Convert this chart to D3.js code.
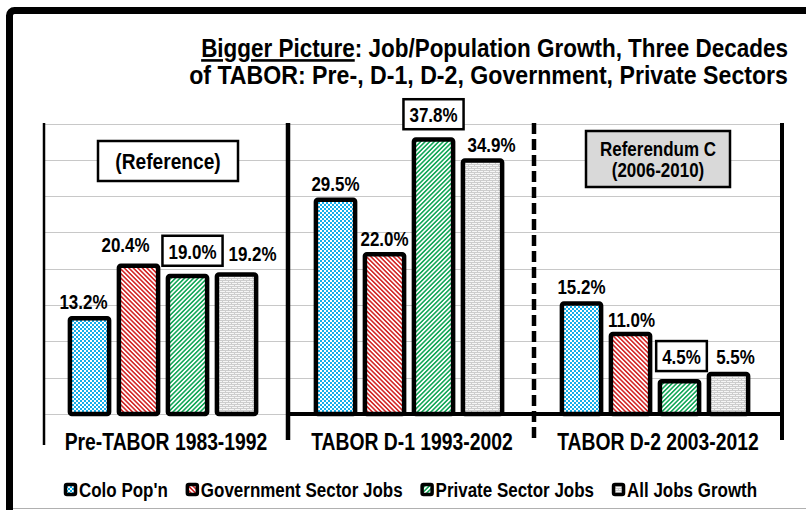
<!DOCTYPE html>
<html>
<head>
<meta charset="utf-8">
<script src="https://cdn.jsdelivr.net/npm/d3@7"></script>
<style>
  body { margin: 0; background: #fff; }
  svg { display: block; }
  text { font-family: 'Liberation Sans', Arial, sans-serif; font-weight: bold; fill: #000; }
</style>
</head>
<body>
<svg id="chart" width="806" height="510"></svg>
<script>
// data (percent growth per decade)
const periods = ['Pre-TABOR 1983-1992', 'TABOR D-1 1993-2002', 'TABOR D-2 2003-2012'];
const seriesNames = ["Colo Pop'n", 'Government Sector Jobs', 'Private Sector Jobs', 'All Jobs Growth'];
const coloPop = [13.2, 29.5, 15.2];
const govJobs = [20.4, 22.0, 11.0];
const privJobs = [19.0, 37.8, 4.5];
const allJobs = [19.2, 34.9, 5.5];
const boxedSeries = 'Private Sector Jobs';

// hand-moved labels in the original: [period][series] nudges in px
const labelDx = [[-6, -13, 5, 16], [0, 0, 0, 9], [0, 1, 2, 7]];
const labelDy = [[0, -5, 0, -4], [0, 1, 0, 1], [0, 2, 0, -1]];

const width = 806;
const height = 510;
const svg = d3.select('#chart');
const defs = svg.append('defs');

// squeeze text horizontally, the original is set in a narrow bold face
const narrow = (sel, k = 0.87) =>
    sel.each(function () {
        const len = this.getComputedTextLength();
        d3.select(this).attr('textLength', len * k).attr('lengthAdjust', 'spacingAndGlyphs');
    });

// fill patterns
const pattern = (id, w, h, rot) =>
    defs.append('pattern')
        .attr('id', id)
        .attr('patternUnits', 'userSpaceOnUse')
        .attr('width', w)
        .attr('height', h)
        .attr('patternTransform', rot ? `rotate(${rot})` : null);

const pPop = pattern('p0', 4, 4);
pPop.append('rect').attr('width', 4).attr('height', 4).attr('fill', '#fff');
pPop.append('rect').attr('width', 2).attr('height', 2).attr('fill', '#14aeea');
pPop.append('rect').attr('x', 2).attr('y', 2).attr('width', 2).attr('height', 2).attr('fill', '#14aeea');

const stripes = (id, clr, rot) => {
    const p = pattern(id, 3.2, 3.2, rot);
    p.append('rect').attr('width', 3.2).attr('height', 3.2).attr('fill', '#fff');
    p.append('rect').attr('width', 1.6).attr('height', 3.2).attr('fill', clr);
};
stripes('p1', '#d42a2a', -45);
stripes('p2', '#16a85a', 45);

const pAll = pattern('p3', 6, 4);
pAll.append('rect').attr('width', 6).attr('height', 4).attr('fill', '#f6f6f6');
pAll.append('path')
    .attr('d', 'M0,0.5H6M0,2.5H6M0.5,0V2.5M3.5,2.5V4')
    .attr('stroke', '#cdcdcd')
    .attr('stroke-width', 1)
    .attr('fill', 'none');

const fills = seriesNames.map((s, i) => `url(#p${i})`);

// outer frame
svg.append('rect')
    .attr('x', 9.5)
    .attr('y', 10.5)
    .attr('width', 830)
    .attr('height', 530)
    .attr('rx', 5)
    .attr('fill', 'none')
    .attr('stroke', '#000')
    .attr('stroke-width', 7);
svg.append('line')
    .attr('x1', 13).attr('x2', width)
    .attr('y1', 508.5).attr('y2', 508.5)
    .attr('stroke', '#b0b0b0');

// title, right aligned; each line squeezed to the width it has in the original
const titleWidths = [587, 599];
const title = svg.append('g').attr('text-anchor', 'end').style('font-size', '26px');
const t1 = title.append('text').attr('y', 57);
t1.append('tspan').style('text-decoration', 'underline').text('Bigger Picture');
t1.append('tspan').text(': Job/Population Growth, Three Decades');
title.append('text')
    .attr('y', 84)
    .text('of TABOR: Pre-, D-1, D-2, Government, Private Sectors');
title.selectAll('text').each(function (d, i) {
    const k = titleWidths[i] / this.getComputedTextLength();
    d3.select(this).attr('transform', `translate(788,0) scale(${k},1)`);
});

// scales
const x0 = d3.scaleBand().domain(periods).range([43, 781]);
const x1 = d3.scaleBand()
    .domain(seriesNames)
    .range([0, x0.bandwidth()])
    .paddingInner(0.2)
    .paddingOuter(0.61)
    .align(0.45);
const y = d3.scaleLinear().domain([0, 40]).range([414, 123.5]);

// gridlines
svg.append('g')
    .selectAll('line')
    .data(y.ticks(8))
    .join('line')
    .attr('x1', x0.range()[0])
    .attr('x2', x0.range()[1])
    .attr('y1', d => Math.round(y(d)) + 0.5)
    .attr('y2', d => Math.round(y(d)) + 0.5)
    .attr('stroke', '#c8c8c8')
    .attr('stroke-width', 1.2);

// period separators
const bounds = periods.map(p => x0(p)).concat(x0.range()[1]);
const sepStyle = [
    { w: 2.5, dash: null, bottom: 445, dx: 1 },
    { w: 4.5, dash: null, bottom: 440, dx: -1 },
    { w: 4.5, dash: '11,5', bottom: 440, dx: -1 },
    { w: 4, dash: null, bottom: 440, dx: 1 },
];
svg.append('g')
    .selectAll('line')
    .data(bounds)
    .join('line')
    .attr('x1', (d, i) => d + sepStyle[i].dx)
    .attr('x2', (d, i) => d + sepStyle[i].dx)
    .attr('y1', y(40) - 0.5)
    .attr('y2', (d, i) => sepStyle[i].bottom)
    .attr('stroke', '#000')
    .attr('stroke-width', (d, i) => sepStyle[i].w)
    .attr('stroke-dasharray', (d, i) => sepStyle[i].dash);

// baseline: black under the TABOR decades
svg.append('line')
    .attr('x1', bounds[1] - 2)
    .attr('x2', bounds[3] + 2)
    .attr('y1', y(0))
    .attr('y2', y(0))
    .attr('stroke', '#000')
    .attr('stroke-width', 4);

// bars
const values = [coloPop, govJobs, privJobs, allJobs];
const cells = periods.flatMap((p, pi) =>
    seriesNames.map((s, si) => ({ p, pi, s, si, v: values[si][pi] }))
);

svg.append('g')
    .selectAll('rect')
    .data(cells)
    .join('rect')
    .attr('x', d => x0(d.p) + x1(d.s))
    .attr('y', d => y(d.v))
    .attr('width', x1.bandwidth())
    .attr('height', d => y(0) - y(d.v))
    .attr('rx', 2)
    .attr('fill', d => fills[d.si])
    .attr('stroke', '#000')
    .attr('stroke-width', 4.5)
    .attr('stroke-linejoin', 'round');

// value labels
const labels = svg.append('g').attr('text-anchor', 'middle').style('font-size', '19.5px');
cells.forEach(d => {
    const cx = x0(d.p) + x1(d.s) + x1.bandwidth() / 2 + labelDx[d.pi][d.si];
    const boxed = d.s === boxedSeries;
    const base = y(d.v) - 2.25 - (boxed ? 15 : 7) + labelDy[d.pi][d.si];
    const g = labels.append('g');
    const txt = g.append('text').attr('x', cx).attr('y', base).text(`${d.v.toFixed(1)}%`);
    narrow(txt);
    if (boxed) {
        const w = +txt.attr('textLength');
        g.insert('rect', 'text')
            .attr('x', cx - w / 2 - 6)
            .attr('y', base - 23)
            .attr('width', w + 12)
            .attr('height', 30)
            .attr('fill', '#fff')
            .attr('stroke', '#000')
            .attr('stroke-width', 2.5);
    }
});

// period labels
const cats = svg.append('g')
    .attr('text-anchor', 'middle')
    .style('font-size', '23px')
    .selectAll('text')
    .data(periods)
    .join('text')
    .attr('x', d => x0(d) + x0.bandwidth() / 2)
    .attr('y', 450)
    .text(d => d);
narrow(cats, 0.84);

// annotations
const note1 = svg.append('g');
const c1 = x0(periods[0]) + x0.bandwidth() / 2 + 2;
note1.append('rect')
    .attr('x', c1 - 70).attr('y', 141)
    .attr('width', 140).attr('height', 40)
    .attr('fill', '#fff').attr('stroke', '#000').attr('stroke-width', 2.5);
narrow(note1.append('text')
    .attr('x', c1).attr('y', 169)
    .attr('text-anchor', 'middle')
    .style('font-size', '22px')
    .text('(Reference)'));

const note2 = svg.append('g');
const c3 = x0(periods[2]) + x0.bandwidth() / 2;
note2.append('rect')
    .attr('x', c3 - 72).attr('y', 131)
    .attr('width', 144).attr('height', 56)
    .attr('fill', '#d9d9d9').attr('stroke', '#000').attr('stroke-width', 2.5);
narrow(note2.selectAll('text')
    .data(['Referendum C', '(2006-2010)'])
    .join('text')
    .attr('x', c3)
    .attr('y', (d, i) => 156 + i * 21)
    .attr('text-anchor', 'middle')
    .style('font-size', '19.5px')
    .text(d => d));

// legend
const legend = svg.append('g').style('font-size', '19.5px');
let lx = 64;
seriesNames.forEach((s, i) => {
    const item = legend.append('g');
    item.append('rect')
        .attr('x', lx + 1.5).attr('y', 484.5)
        .attr('width', 10).attr('height', 10)
        .attr('rx', 1.5)
        .attr('fill', fills[i])
        .attr('stroke', '#000')
        .attr('stroke-width', 3.5);
    const txt = item.append('text').attr('x', lx + 15).attr('y', 497).text(s);
    narrow(txt);
    lx += 15 + +txt.attr('textLength') + 18;
});
</script>
</body>
</html>
